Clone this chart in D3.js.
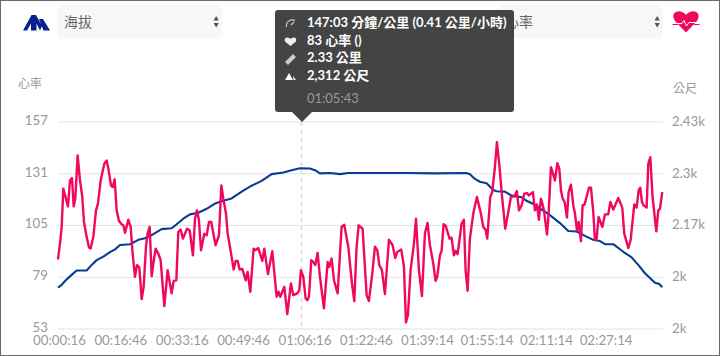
<!DOCTYPE html>
<html>
<head>
<meta charset="utf-8">
<script src="https://cdn.jsdelivr.net/npm/d3@7"></script>
<style>
  html, body { margin: 0; padding: 0; background: #fff; }
  svg { display: block; }
  text { font-family: Lato, "Noto Sans CJK TC", sans-serif; }
</style>
</head>
<body>
<div id="graph-wrapper"></div>
<script>
// all times in seconds from start of the activity
const hrTimes = [0,32,59,86,129,161,193,226,253,279,317,355,392,419,462,500,527,570,613,645,688,747,785,817,855,882,914,946,984,1027,1054,1081,1134,1172,1204,1242,1274,1312,1350,1382,1419,1446,1479,1511,1538,1575,1618,1656,1715,1769,1833,1866,1909,1941,1979,2016,2081,2124,2177,2210,2242,2274,2307,2360,2398,2436,2473,2511,2543,2597,2635,2672,2710,2737,2774,2834,2866,2898,2930,2973,3027,3059,3102,3156,3188,3231,3296,3328,3387,3457,3527,3559,3586,3651,3699,3758,3796,3860,3893,3919,3957,3995,4022,4048,4086,4118,4151,4188,4226,4290,4350,4376,4414,4452,4511,4575,4618,4683,4742,4780,4817,4850,4914,4979,5016,5070,5113,5151,5183,5226,5274,5339,5398,5441,5473,5538,5581,5613,5645,5688,5742,5775,5823,5871,5919,5962,6000,6054,6091,6118,6161,6188,6220,6253,6317,6349,6387,6414,6446,6511,6548,6575,6608,6645,6699,6758,6817,6860,6898,6925,6973,7005,7048,7081,7118,7167,7215,7264,7307,7360,7403,7436,7479,7522,7565,7597,7629,7661,7694,7726,7758,7790,7802,7840,7888,7915,7952,7979,8017,8055,8087,8114,8141,8173,8211,8237,8275,8313,8340,8372,8399,8436,8463,8496,8533,8565,8598,8635,8662,8689,8721,8781,8824,8877,8910,8958,9039,9103,9135,9200,9238,9297,9334,9367,9393,9420,9447,9496,9523,9555,9592,9652,9684,9711,9748];
const hrValues = [88,96,104,123.5,118.5,114.6,127.6,128.8,114.6,118.5,140.2,127.6,119.3,106.8,99.3,93.9,93.4,99.3,112.6,116,127.6,136,137.7,132.7,125.1,124.3,128.2,112.6,107.3,105.6,105.1,101.3,107.9,104.3,90.9,79.2,85.1,83.9,68,74.2,94.3,100.9,104.3,79.5,85.9,93.4,90.9,87.6,64.5,82.6,70.9,77.2,77.5,101.8,102.9,98.4,103.4,102.6,90,108.4,112.6,107.6,92.6,100.9,100.1,106.8,106.8,100.1,95.1,100.1,125.1,117.6,111,100.9,94.3,82.9,87.2,87.2,82.9,83.2,77.5,81.7,71.7,93.4,92.6,93.7,87.2,93.4,80.6,92.1,69.2,71.7,69.2,74.2,60.5,75.9,70,70.9,72.5,82.6,79.2,68.4,67.5,69.2,87.6,86.7,85.1,91.2,79.2,63.4,86.7,84.2,88.4,77.5,70.9,104.3,105.4,94.3,75.9,67,94.3,105.1,103.4,70,67,80.9,94.3,92.6,85.1,82.6,70.5,97.9,95.1,88.7,91.7,92.9,84.2,56.3,60,82.6,95.9,108.4,82.6,69.5,100.9,106.3,95.1,85.9,77.2,79.2,90,92.2,105.6,104.9,98.4,98.9,90,92.2,90.6,105.9,107.9,82.6,72.2,98.4,111,119.3,111.8,104.3,102.9,98.4,119.3,121.8,134.3,146.9,136,118.5,103.4,111.8,119.3,119.6,122.3,112.6,115.1,121,121.3,120.1,121,121.8,112.6,115.6,107.9,118.5,117.6,112.6,100.4,111,134.3,131.8,127.6,136.3,133.5,122.6,118.5,116.8,109,121.8,125.5,115.1,111,102.6,106.8,97.1,115.1,115.6,120.1,124,124,111.8,97.6,98.4,109.3,104.3,110.6,110.6,116.8,113,118.8,114,100.9,93.7,97.6,115.6,114,122.6,124,116.8,115.1,114,136,139.3,119.3,102.1,112.6,113.4,121.8];

const eleTimes = [0,59,129,220,301,462,543,624,731,839,920,1000,1161,1296,1403,1511,1672,1833,1914,2022,2129,2264,2398,2532,2667,2801,2963,3124,3285,3447,3635,3769,3903,4065,4145,4226,4387,4549,4683,5086,5624,6081,6591,6645,6726,6806,6914,7022,7075,7210,7317,7479,7559,7694,7775,7936,8098,8232,8366,8501,8635,8743,8824,8958,9119,9254,9361,9469,9630,9700,9748];
const eleValues = [2014,2021,2033,2046,2057,2057,2071,2083,2092,2103,2110,2121,2123,2134,2138,2146,2161,2163,2173,2187,2198,2202,2212,2225,2232,2238,2255,2270,2282,2299,2303,2309,2314,2313,2309,2301,2302,2299,2302,2302,2302,2301,2302,2299,2287,2280,2276,2259,2256,2255,2245,2241,2232,2222,2213,2196,2176,2156,2155,2144,2134,2131,2123,2123,2104,2090,2071,2050,2026,2023,2015];

const xTicks = [16,1006,1996,2986,3976,4966,5954,6914,7874,8834];
const hrTicks = [53,79,105,131,157];
const eleTicks = [1910,2040,2170,2300,2430];
const eleTickLabels = ["2k","2k","2.17k","2.3k","2.43k"];

const tooltipLines = ["147:03 分鐘/公里 (0.41 公里/小時)","83 心率 ()","2.33 公里","2,312 公尺"];
const tooltipTime = "01:05:43";
const hoverTime = 3943;

const width = 720;
const height = 356;
const marginTop = 122;
const marginRight = 57;
const marginBottom = 27;
const marginLeft = 58;

const x = d3.scaleLinear().domain([0, 9760]).range([marginLeft, width - marginRight]);
const yHr = d3.scaleLinear().domain([53, 157]).range([height - marginBottom, marginTop]);
const yEle = d3.scaleLinear().domain([1910, 2430]).range([height - marginBottom, marginTop]);

const secToLabel = s => {
  const pad = n => String(n).padStart(2, "0");
  return pad(Math.floor(s / 3600)) + ":" + pad(Math.floor(s / 60) % 60) + ":" + pad(s % 60);
};

const svg = d3.select("#graph-wrapper").append("svg")
  .attr("width", width)
  .attr("height", height);

// frame of the screenshot
svg.append("rect")
  .attr("x", 0.5).attr("y", 0.5)
  .attr("width", width - 1).attr("height", height - 1)
  .attr("fill", "none").attr("stroke", "#6a6a6a");

// gridlines
svg.append("g").selectAll("line").data(hrTicks).join("line")
  .attr("x1", marginLeft).attr("x2", width - marginRight)
  .attr("y1", d => yHr(d)).attr("y2", d => yHr(d))
  .attr("stroke", "#e2e2e2");

// axes
const axisLeft = svg.append("g")
  .attr("transform", `translate(${marginLeft},-2)`)
  .call(d3.axisLeft(yHr).tickValues(hrTicks).tickSize(0).tickPadding(10));
const axisRight = svg.append("g")
  .attr("transform", `translate(${width - marginRight},-1)`)
  .call(d3.axisRight(yEle).tickValues(eleTicks).tickSize(0).tickPadding(9)
    .tickFormat((d, i) => eleTickLabels[i]));
const axisBottom = svg.append("g")
  .attr("transform", `translate(0,${height - marginBottom})`)
  .call(d3.axisBottom(x).tickValues(xTicks).tickSize(0).tickPadding(7).tickFormat(secToLabel));
[axisLeft, axisRight, axisBottom].forEach(a => {
  a.select(".domain").remove();
  a.selectAll("text").attr("fill", "#999").style("font-size", "13.3px")
    .style("font-family", "Lato, sans-serif");
});

svg.append("text").text("心率").attr("x", 18).attr("y", 88)
  .attr("fill", "#999").style("font-size", "12px");
svg.append("text").text("公尺").attr("x", 673).attr("y", 93)
  .attr("fill", "#999").style("font-size", "12px");

// hover marker
svg.append("line")
  .attr("x1", x(hoverTime) - 1).attr("x2", x(hoverTime) - 1)
  .attr("y1", marginTop).attr("y2", height - marginBottom)
  .attr("stroke", "#d8d8d8").attr("stroke-width", 1.5).attr("stroke-dasharray", "4 4");

// lines
const eleLine = d3.line().x((d, i) => x(eleTimes[i])).y(d => yEle(d));
const hrLine = d3.line().x((d, i) => x(hrTimes[i])).y(d => yHr(d));
svg.append("path").attr("d", eleLine(eleValues))
  .attr("fill", "none").attr("stroke", "#0a3a94").attr("stroke-width", 2.1).attr("stroke-linejoin", "round");
svg.append("path").attr("d", hrLine(hrValues))
  .attr("fill", "none").attr("stroke", "#f0085f").attr("stroke-width", 2.4).attr("stroke-linejoin", "round");

// the two dropdowns
const selects = [{ left: 57, label: "海拔" }, { left: 498, label: "心率" }];
selects.forEach(s => {
  const g = svg.append("g").attr("transform", `translate(${s.left},5)`);
  g.append("rect").attr("width", 165).attr("height", 33).attr("rx", 5).attr("fill", "#f7f7f7");
  g.append("text").text(s.label).attr("x", 7).attr("y", 22)
    .attr("fill", "#666").style("font-size", "14px");
  g.append("path").attr("d", "M156.5 15.5l2.7-4.5 2.7 4.5zM156.5 18l2.7 4.5 2.7-4.5z")
    .attr("fill", "#555");
});

// elevation icon
svg.append("path")
  .attr("d", "M23 30.5L31.5 15L36 15L42 26L40 30.5L36.5 23.5L36.5 30.5L31 30.5L31 23.5L27 30.5ZM39 19L43 19L50 30.5L43.5 30.5Z")
  .attr("fill", "#0a1f8f");

// heart icon
svg.append("path")
  .attr("d", "M686 32.5L675 21C669 11 681 8 686 15C691 8 703 11 697 21Z")
  .attr("fill", "#f0085f");
svg.append("path")
  .attr("d", "M676 23.5H682L684 20.5L686.5 26L689 22.5H696")
  .attr("fill", "none").attr("stroke", "#fff").attr("stroke-width", 1);
svg.append("path")
  .attr("d", "M672.5 24.5H678M694 24.5H699.5")
  .attr("fill", "none").attr("stroke", "#f0085f").attr("stroke-width", 1.2);

// tooltip
const tip = svg.append("g");
tip.append("rect").attr("x", 275).attr("y", 10).attr("width", 239).attr("height", 102).attr("rx", 3).attr("fill", "#444");
tip.append("path").attr("d", "M292 112L302 122L312 112Z").attr("fill", "#444");
tooltipLines.forEach((t, i) => {
  tip.append("text").text(t).attr("x", 307).attr("y", 27 + i * 17.6)
    .attr("fill", "#fff").style("font-size", "13px").style("font-weight", 700);
});
tip.append("text").text(tooltipTime).attr("x", 307).attr("y", 103)
  .attr("fill", "#999").style("font-size", "13px");

// tooltip icons
tip.append("path").attr("d", "M286.5 27A6 6 0 0 1 295 20.5M291 25L294 22")
  .attr("fill", "none").attr("stroke", "#ccc").attr("stroke-width", 1.2);
tip.append("path").attr("d", "M290.5 46L285 41.5C283.5 37 288 36.5 290.5 39C293 36.5 297.5 37 296 41.5Z").attr("fill", "#eee");
tip.append("path").attr("d", "M285 62L293 54L296 57L288 65Z").attr("fill", "#ccc");
tip.append("path").attr("d", "M285 80L289 73L293 80ZM293 76L296 80H293.5Z").attr("fill", "#fff");
</script>
</body>
</html>
